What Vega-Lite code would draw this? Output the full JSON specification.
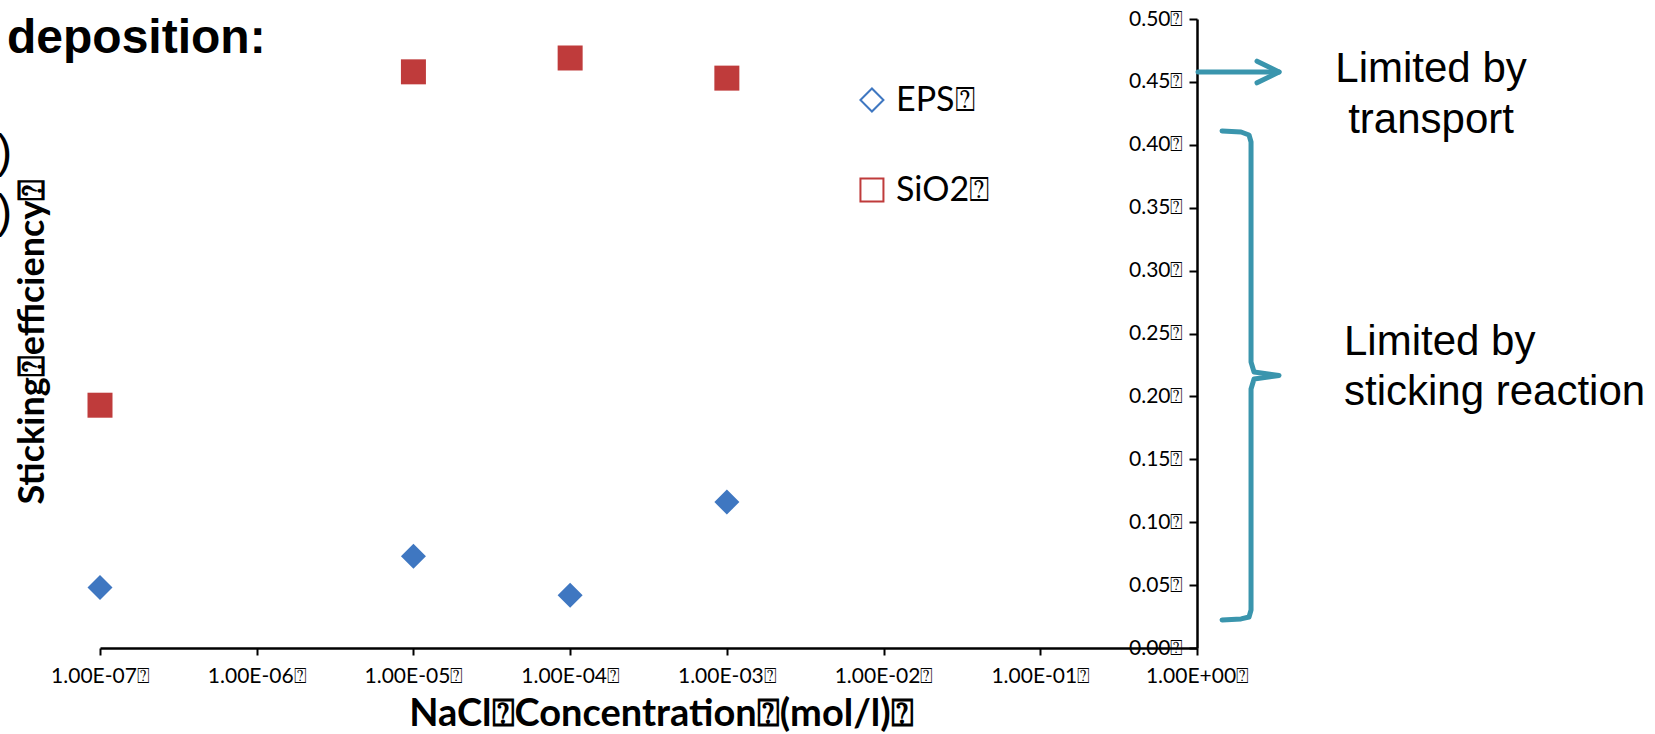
{
  "$schema": "https://vega.github.io/schema/vega-lite/v6.json",
  "width": 1097,
  "height": 629,
  "autosize": "none",
  "padding": {"left": 100, "top": 19, "right": 458, "bottom": 86},
  "background": "white",
  "config": {"view": {"stroke": null}, "axis": {"grid": false}},
  "encoding": {
    "x": {
      "field": "x", "type": "quantitative",
      "scale": {"type": "log", "domain": [1e-7, 1], "nice": false},
      "axis": {
        "values": [1e-7, 1e-6, 1e-5, 1e-4, 1e-3, 1e-2, 1e-1, 1],
        "labelExpr": "'1.00E' + (datum.value >= 1 ? '+00' : '-0' + round(-log(datum.value)/LN10)) + '⍰'",
        "labelFont": "Lato", "labelFontSize": 21, "labelColor": "#000", "labelPadding": 10,
        "labelFlush": false, "labelOverlap": false,
        "tickSize": 7, "tickWidth": 2, "tickColor": "#000",
        "domainColor": "#000", "domainWidth": 2.5,
        "title": "NaCl⍰Concentration⍰(mol/l)⍰",
        "titleFont": "Lato", "titleFontSize": 38, "titleFontWeight": "bold", "titleColor": "#000",
        "titleX": 561, "titleY": 77, "titleBaseline": "alphabetic", "titleAlign": "center"
      }
    },
    "y": {
      "field": "y", "type": "quantitative",
      "scale": {"domain": [0, 0.5], "nice": false},
      "axis": {
        "orient": "left", "offset": -1097,
        "values": [0, 0.05, 0.1, 0.15, 0.2, 0.25, 0.3, 0.35, 0.4, 0.45, 0.5],
        "labelExpr": "format(datum.value, '.2f') + '⍰'",
        "labelFont": "Lato", "labelFontSize": 21, "labelColor": "#000", "labelPadding": 6,
        "labelFlush": false, "labelOverlap": false,
        "tickSize": 8, "tickWidth": 2, "tickColor": "#000",
        "domainColor": "#000", "domainWidth": 2.5,
        "title": "Sticking⍰efficiency⍰",
        "titleFont": "Lato", "titleFontSize": 36, "titleFontWeight": "bold", "titleColor": "#000",
        "titleX": -1154, "titleY": 322, "titleBaseline": "alphabetic", "titleAlign": "center", "titleAngle": 270
      }
    }
  },
  "layer": [
    {
      "data": {"values": [
        {"x": 1e-7, "y": 0.048, "series": "EPS"},
        {"x": 1e-5, "y": 0.073, "series": "EPS"},
        {"x": 1e-4, "y": 0.042, "series": "EPS"},
        {"x": 1e-3, "y": 0.116, "series": "EPS"},
        {"x": 1e-7, "y": 0.193, "series": "SiO2"},
        {"x": 1e-5, "y": 0.458, "series": "SiO2"},
        {"x": 1e-4, "y": 0.469, "series": "SiO2"},
        {"x": 1e-3, "y": 0.453, "series": "SiO2"}
      ]},
      "mark": {"type": "point", "filled": true, "size": 625, "opacity": 1},
      "encoding": {
        "color": {
          "field": "series", "type": "nominal",
          "scale": {"domain": ["EPS", "SiO2"], "range": ["#3F77C1", "#BF3B3B"]},
          "legend": null
        },
        "shape": {
          "field": "series", "type": "nominal",
          "scale": {"domain": ["EPS", "SiO2"], "range": ["diamond", "square"]},
          "legend": null
        }
      }
    },
    {
      "data": {"values": [
        {"x": 0.00843, "y": 0.4356, "series": "EPS"},
        {"x": 0.00843, "y": 0.3641, "series": "SiO2"}
      ]},
      "mark": {"type": "point", "filled": false, "size": 529, "strokeWidth": 2, "opacity": 1, "clip": false},
      "encoding": {
        "color": {"field": "series", "type": "nominal", "legend": null},
        "shape": {"field": "series", "type": "nominal", "legend": null}
      }
    },
    {
      "data": {"values": [
        {"x": 0.01201, "y": 0.4345, "label": "EPS⍰"},
        {"x": 0.01201, "y": 0.363, "label": "SiO2⍰"}
      ]},
      "mark": {"type": "text", "font": "Lato", "fontSize": 34, "align": "left", "baseline": "middle", "color": "#000"},
      "encoding": {"text": {"field": "label"}}
    },
    {
      "data": {"values": [
        {"part": "shaft", "ord": 1, "x": 1.015, "y": 0.4579},
        {"part": "shaft", "ord": 2, "x": 3.337, "y": 0.4579},
        {"part": "head", "ord": 1, "x": 2.416, "y": 0.4665},
        {"part": "head", "ord": 2, "x": 3.337, "y": 0.4579},
        {"part": "head", "ord": 3, "x": 2.416, "y": 0.4493},
        {"part": "brace", "ord": 1, "x": 1.445, "y": 0.411},
        {"part": "brace", "ord": 2, "x": 1.91, "y": 0.4102},
        {"part": "brace", "ord": 3, "x": 2.148, "y": 0.4078},
        {"part": "brace", "ord": 4, "x": 2.212, "y": 0.4022},
        {"part": "brace", "ord": 5, "x": 2.212, "y": 0.2273},
        {"part": "brace", "ord": 6, "x": 2.312, "y": 0.2194},
        {"part": "brace", "ord": 7, "x": 3.337, "y": 0.2166},
        {"part": "brace", "ord": 8, "x": 2.312, "y": 0.2138},
        {"part": "brace", "ord": 9, "x": 2.212, "y": 0.2059},
        {"part": "brace", "ord": 10, "x": 2.212, "y": 0.0302},
        {"part": "brace", "ord": 11, "x": 2.148, "y": 0.0246},
        {"part": "brace", "ord": 12, "x": 1.91, "y": 0.0231},
        {"part": "brace", "ord": 13, "x": 1.445, "y": 0.0223}
      ]},
      "mark": {"type": "line", "color": "#3A95AD", "strokeWidth": 5, "strokeCap": "round", "strokeJoin": "round", "clip": false},
      "encoding": {
        "detail": {"field": "part", "type": "nominal"},
        "order": {"field": "ord", "type": "quantitative"}
      }
    },
    {
      "data": {"values": [
        {"x": 31.14, "y": 0.4499, "label": "Limited by"},
        {"x": 31.14, "y": 0.4094, "label": "transport"}
      ]},
      "mark": {"type": "text", "font": "Liberation Sans", "fontSize": 42, "align": "center", "baseline": "alphabetic", "color": "#000"},
      "encoding": {"text": {"field": "label"}}
    },
    {
      "data": {"values": [
        {"x": 8.67, "y": 0.2329, "label": "Limited by"},
        {"x": 8.67, "y": 0.1932, "label": "sticking reaction"}
      ]},
      "mark": {"type": "text", "font": "Liberation Sans", "fontSize": 42, "align": "left", "baseline": "alphabetic", "color": "#000"},
      "encoding": {"text": {"field": "label"}}
    },
    {
      "data": {"values": [
        {"x": 2.55e-8, "y": 0.473, "label": "deposition:"}
      ]},
      "mark": {"type": "text", "font": "Liberation Sans", "fontSize": 48, "fontWeight": "bold", "align": "left", "baseline": "alphabetic", "color": "#000"},
      "encoding": {"text": {"field": "label"}}
    },
    {
      "data": {"values": [
        {"x": 2.745e-8, "y": 0.3824, "label": ")"},
        {"x": 2.745e-8, "y": 0.3347, "label": ")"}
      ]},
      "mark": {"type": "text", "font": "Liberation Sans", "fontSize": 46, "align": "right", "baseline": "alphabetic", "color": "#000"},
      "encoding": {"text": {"field": "label"}}
    }
  ]
}
